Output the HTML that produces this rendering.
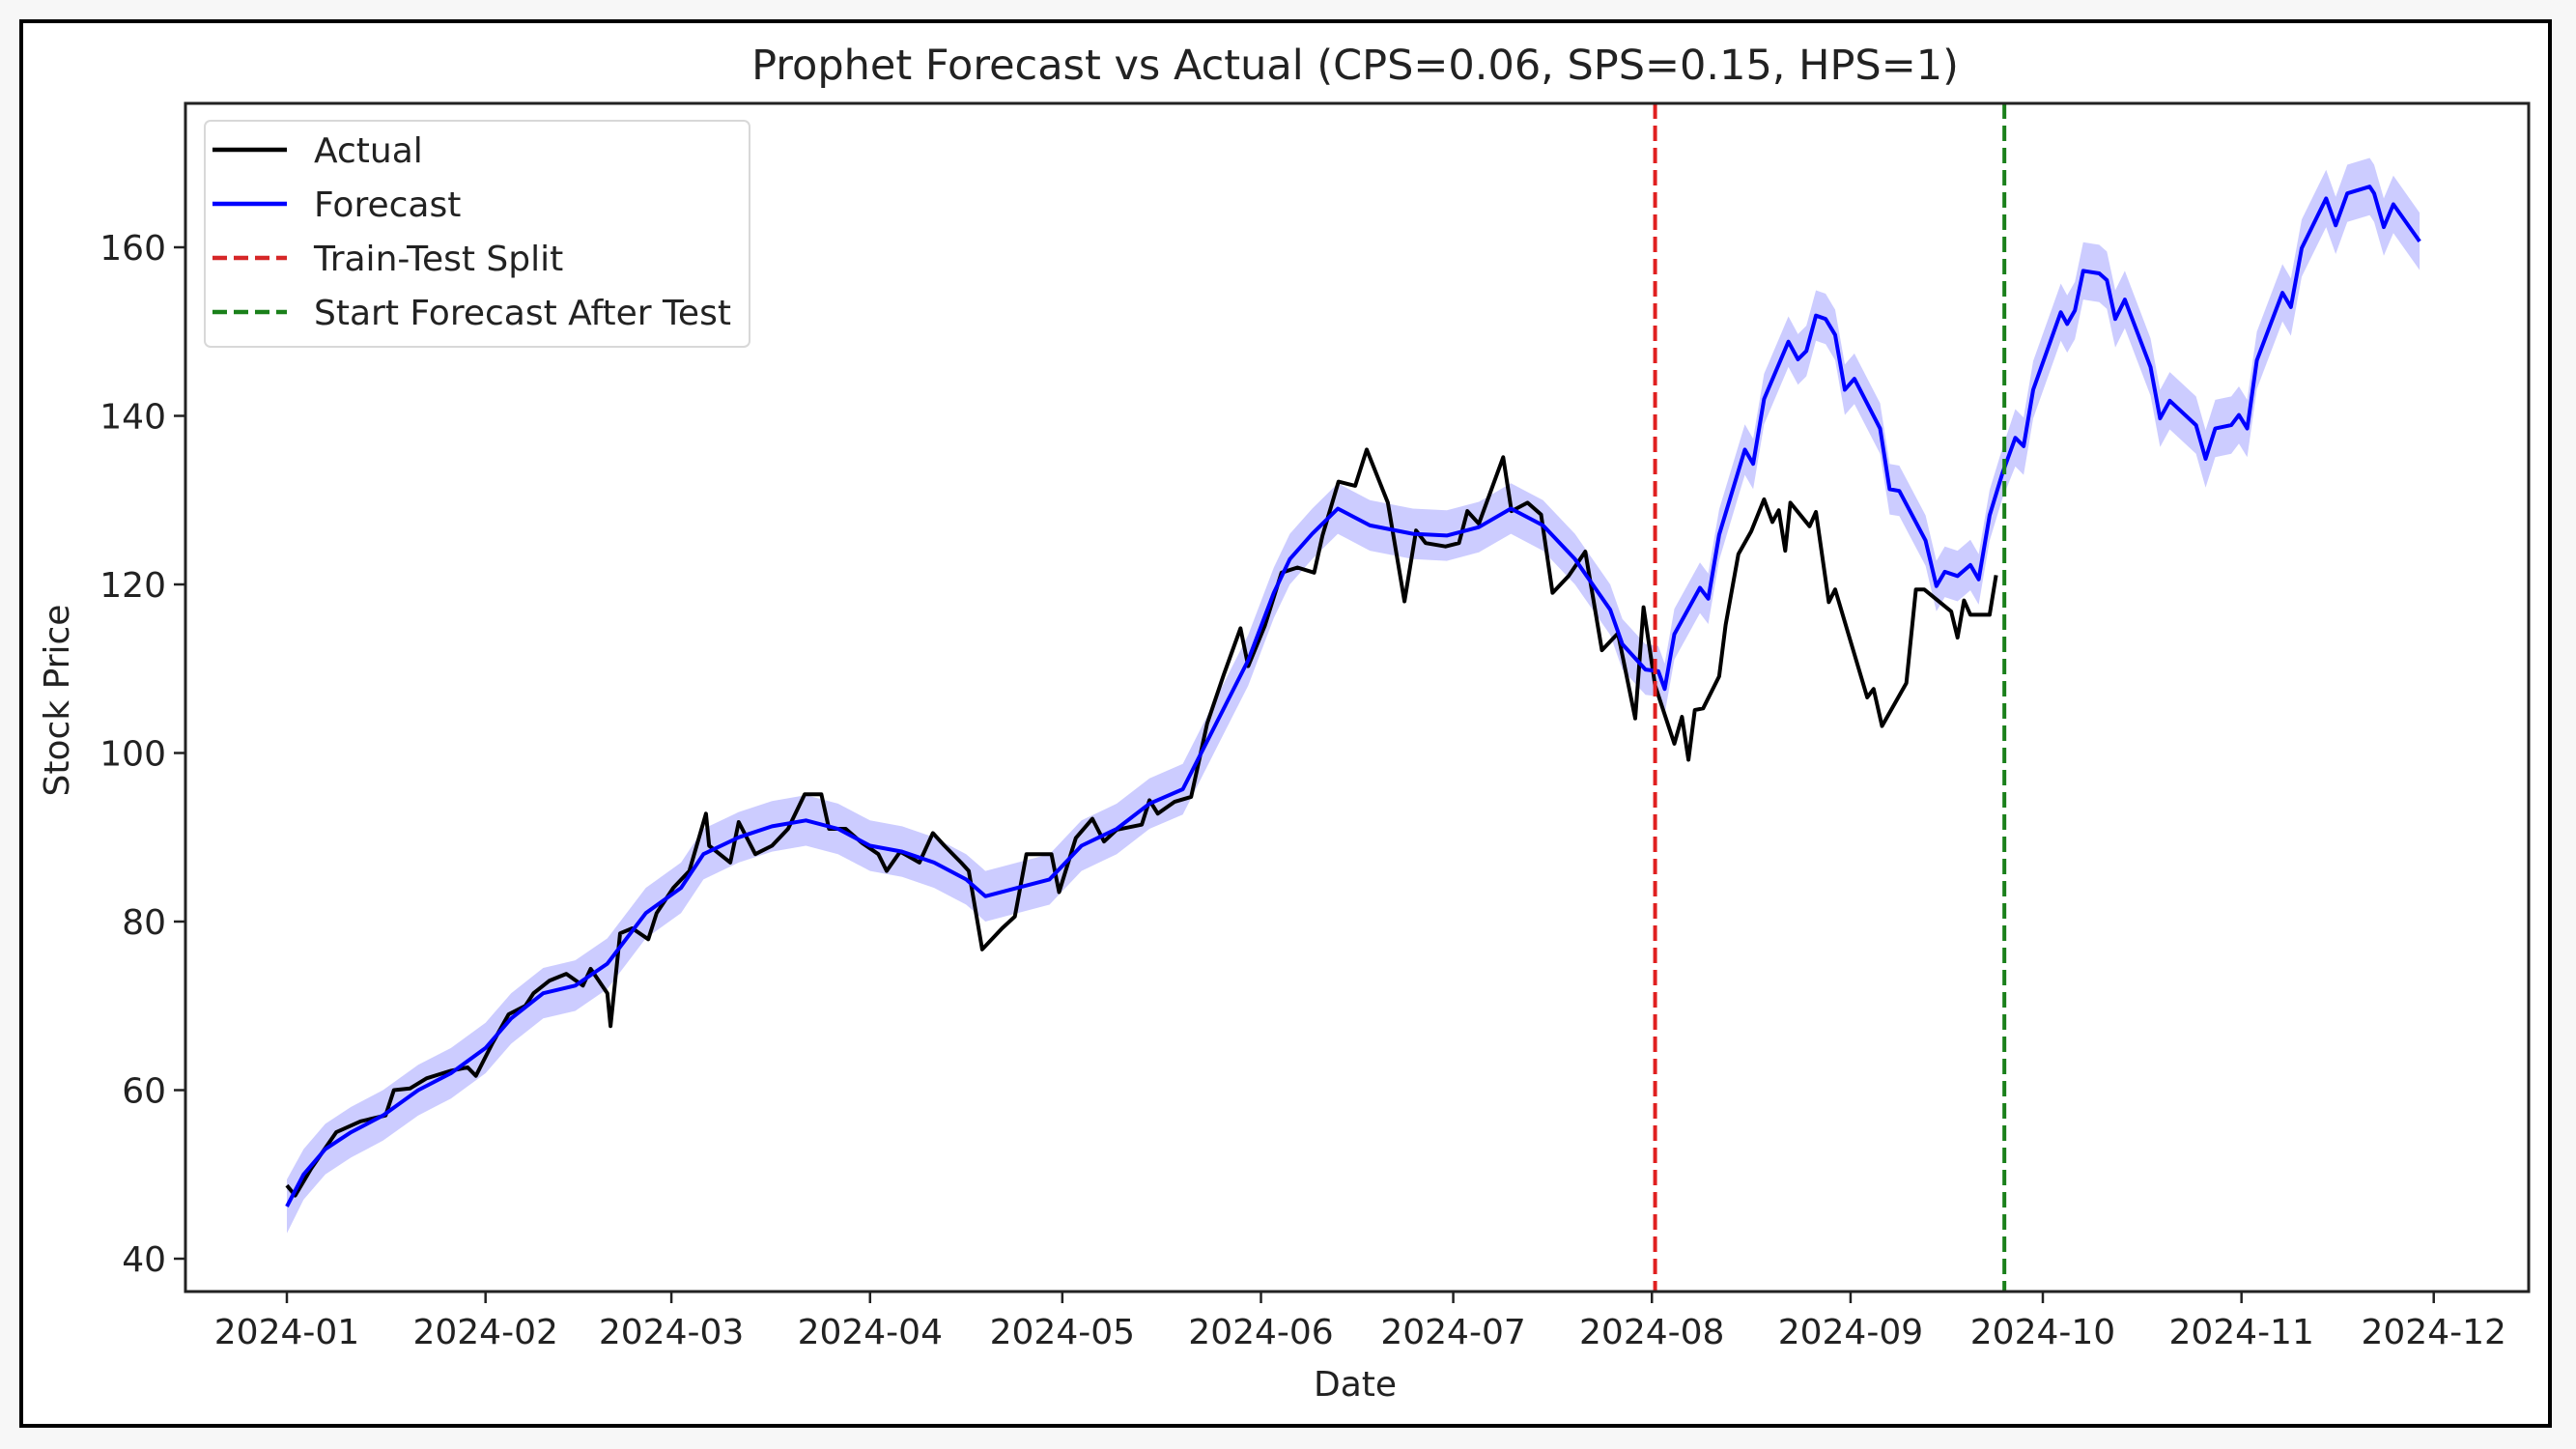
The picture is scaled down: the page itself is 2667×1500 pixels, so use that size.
<!DOCTYPE html>
<html><head><meta charset="utf-8"><style>
html,body{margin:0;padding:0;background:#f7f7f7;}
svg{display:block;font-family:"DejaVu Sans","Liberation Sans",sans-serif;}
</style></head><body>
<svg id="chart" width="2667" height="1500" viewBox="0 0 2667 1500" xmlns="http://www.w3.org/2000/svg">
<rect x="22" y="22" width="2618" height="1454" fill="#fff" stroke="#000" stroke-width="4"/>
<text x="1403" y="82" font-size="43" text-anchor="middle" fill="#222">Prophet Forecast vs Actual (CPS=0.06, SPS=0.15, HPS=1)</text>
<g id="plot"></g>
<text x="1403" y="1445" font-size="36" text-anchor="middle" fill="#222">Date</text>
<text x="0" y="0" font-size="36" text-anchor="middle" fill="#222" transform="translate(71,725) rotate(-90)">Stock Price</text>
<g>
<rect x="212" y="125" width="564" height="234" rx="6" fill="#fff" fill-opacity="0.85" stroke="#d8d8d8" stroke-width="2"/>
<line x1="220" y1="155" x2="297" y2="155" stroke="#000" stroke-width="4.5"/>
<text x="325" y="168" font-size="36" fill="#222">Actual</text>
<line x1="220" y1="211" x2="297" y2="211" stroke="#0000ff" stroke-width="4.5"/>
<text x="325" y="224" font-size="36" fill="#222">Forecast</text>
<line x1="220" y1="267" x2="297" y2="267" stroke="#d62728" stroke-width="4.5" stroke-dasharray="15,7"/>
<text x="325" y="280" font-size="36" fill="#222">Train-Test Split</text>
<line x1="220" y1="323" x2="297" y2="323" stroke="#1a801a" stroke-width="4.5" stroke-dasharray="15,7"/>
<text x="325" y="336" font-size="36" fill="#222">Start Forecast After Test</text>
</g>
</svg>
<script>
const xTickLabels=["2024-01","2024-02","2024-03","2024-04","2024-05","2024-06","2024-07","2024-08","2024-09","2024-10","2024-11","2024-12"];
const xTickDays=[0,31,60,91,121,152,182,213,244,274,305,335];
const yTickValues=[40,60,80,100,120,140,160];
const splitDay=213.5;
const futureDay=268;
const forecastDays=[0,2.6,6,10,15,20.5,25.6,31,35,40,45,50,56,61.5,65,70.5,75.7,81,86,91,96,101,106,109,114,119,124,129.5,134.6,139.8,145,150,154,156.5,160,164,169,175.7,181,186,191,196,201,206.5,
208.4,212,214,215,216.5,220.5,221.8,223.5,227.5,228.8,230.5,234.3,235.8,237.1,238.6,240.1,241.6,243.1,244.6,248.6,250.1,251.6,255.7,257.4,258.7,260.7,262.7,264,265.7,267.7,269.7,271,272.5,276.8,277.8,279,280.3,282.8,284,285.3,286.8,290.8,292.3,293.8,297.9,299.4,300.9,303.4,304.6,305.9,307.4,311.4,312.7,314.4,318.2,319.7,321.5,325,325.7,327.2,328.7,332.8];
const forecastValues=[46.2,50,53,55,57,60,62,65,68.5,71.5,72.4,75,81,84,88,90,91.3,92,91,89,88.3,87,85,83,84,85,89,91,94,95.7,103.5,111,119,123,126,129,127,126,125.8,126.8,129,127,123,117,
112.9,109.9,109.7,107.6,114.1,119.6,118.3,125.9,136,134.3,142,148.8,146.7,147.7,151.9,151.5,149.6,143.1,144.4,138.5,131.3,131.1,125.2,119.8,121.5,121,122.3,120.6,128.2,133.2,137.4,136.4,143.1,152.3,150.9,152.5,157.2,156.9,156.1,151.5,153.8,145.8,139.7,141.8,138.9,134.9,138.5,138.9,140.1,138.5,146.6,154.6,152.9,159.9,165.8,162.6,166.4,167.2,166.4,162.4,165.1,160.7];
const bandHalfWidth=[3.2,3,3,3,3,3,3,3,3,3,3,3,3,3,3,3,3,3,3,3,3,3,3,3,3,3,3,3,3,3,3,3,3,3,3,3,3,3,3,3,3,3,3,3,
3,3,3,3,3,3,3,3,3,3,3,3,3,3,3,3,3,3,3,3,3,3,3,3,3,3,3,3,3,3,3.4,3.4,3.4,3.4,3.4,3.4,3.4,3.4,3.4,3.4,3.4,3.4,3.4,3.4,3.4,3.4,3.4,3.4,3.4,3.4,3.4,3.4,3.4,3.4,3.4,3.4,3.4,3.4,3.4,3.4,3.4,3.4];
const actualDays=[0,1.3,3.8,7.7,11.5,15.4,16.7,19.2,21.8,25.6,28.2,29.5,32.1,34.6,37.2,38.5,41,43.6,46.2,47.4,50,50.5,52,53.9,56.4,57.7,60.3,62.8,65.4,65.9,69.2,70.5,73.1,75.7,78.2,80.8,83.4,84.6,87.2,89.8,92.3,93.6,95.7,98.7,100.8,102.6,105.2,106.4,108.5,111.6,113.6,115.4,119.3,120.5,123.1,125.7,127.5,129.5,133.4,134.6,135.9,138.5,141.1,143.6,146.2,148.8,150,152.6,155.2,157.7,160.3,161.6,164.1,166.7,168.5,171.8,174.4,176.2,177.7,180.8,182.9,184.2,186,189.8,191.1,193.6,195.7,197.5,200,202.6,205.2,207.7,
210.4,211.7,213.5,216.5,217.7,218.7,219.7,221,223.5,224.5,226.5,228.5,230.5,231.8,232.8,233.8,234.6,237.6,238.6,240.6,241.6,246.6,247.6,248.9,252.7,254.2,255.5,259.7,260.7,261.7,262.7,265.7,266.7];
const actualValues=[48.7,47.5,50.7,55,56.3,57,60,60.2,61.4,62.3,62.7,61.7,65.6,69,70,71.5,73,73.8,72.4,74.4,71.5,67.6,78.6,79.2,77.9,81,84,86,92.8,89,87,91.8,88,89,91,95.1,95.1,91,91,89.3,88,86,88.3,87,90.5,89,87,86,76.7,79.2,80.6,88,88,83.5,89.9,92.2,89.5,90.9,91.5,94.4,92.8,94.2,94.8,103.5,109.3,114.8,110.3,115.1,121.4,122,121.4,125.8,132.2,131.7,136,129.7,118,126.4,124.9,124.5,124.9,128.7,127.2,135.1,128.7,129.7,128.3,119,121,123.9,112.2,114.2,
104.1,117.3,108,101.1,104.3,99.2,105.1,105.3,109.1,115.2,123.6,126.3,130.1,127.4,128.8,124,129.7,126.9,128.6,117.9,119.4,106.6,107.6,103.2,108.3,119.4,119.4,116.8,113.7,118.1,116.4,116.4,121.1];

const NS="http://www.w3.org/2000/svg";
const L=192,R=2618,T=107,B=1337;
const xS=d=>297+6.635*d;
const yS=v=>256+(160-v)*8.725;
const g=document.getElementById('plot');
function mk(tag,attrs){const e=document.createElementNS(NS,tag);for(const k in attrs)e.setAttribute(k,attrs[k]);g.appendChild(e);return e;}
const hw=i=>(bandHalfWidth[i]!==undefined?bandHalfWidth[i]:3);
let up=forecastDays.map((d,i)=>xS(d).toFixed(1)+','+yS(forecastValues[i]+hw(i)).toFixed(1));
let lo=forecastDays.map((d,i)=>xS(d).toFixed(1)+','+yS(forecastValues[i]-hw(i)).toFixed(1)).reverse();
const band=mk('polygon',{points:up.concat(lo).join(' '),fill:'#0000ff','fill-opacity':'0.2'});


const act=mk('polyline',{points:actualDays.map((d,i)=>xS(d).toFixed(1)+','+yS(actualValues[i]).toFixed(1)).join(' '),fill:'none',stroke:'#000','stroke-width':4,'stroke-linejoin':'round'});


const fc=mk('polyline',{points:forecastDays.map((d,i)=>xS(d).toFixed(1)+','+yS(forecastValues[i]).toFixed(1)).join(' '),fill:'none',stroke:'#0000ff','stroke-width':4,'stroke-linejoin':'round'});


const sp=mk('line',{x1:xS(splitDay),x2:xS(splitDay),y1:T,y2:B,stroke:'#e02020','stroke-width':4,'stroke-dasharray':'16,7'});


const fu=mk('line',{x1:xS(futureDay),x2:xS(futureDay),y1:T,y2:B,stroke:'#1a801a','stroke-width':4,'stroke-dasharray':'16,7'});


const frame=mk('rect',{x:L,y:T,width:R-L,height:B-T,fill:'none',stroke:'#222','stroke-width':3});


xTickDays.forEach((d,i)=>{
  const x=xS(d);
  const t=mk('line',{x1:x,x2:x,y1:B,y2:B+12,stroke:'#222','stroke-width':2.5});
  
  
  const lb=mk('text',{x:x,y:B+54,'font-size':36,'text-anchor':'middle',fill:'#222'});
  lb.textContent=xTickLabels[i];
  
  
});
yTickValues.forEach(v=>{
  const y=yS(v);
  const t=mk('line',{x1:L-12,x2:L,y1:y,y2:y,stroke:'#222','stroke-width':2.5});
  
  
  const lb=mk('text',{x:L-20,y:y+13,'font-size':36,'text-anchor':'end',fill:'#222'});
  lb.textContent=v;
  
  
});
</script>
</body></html>
